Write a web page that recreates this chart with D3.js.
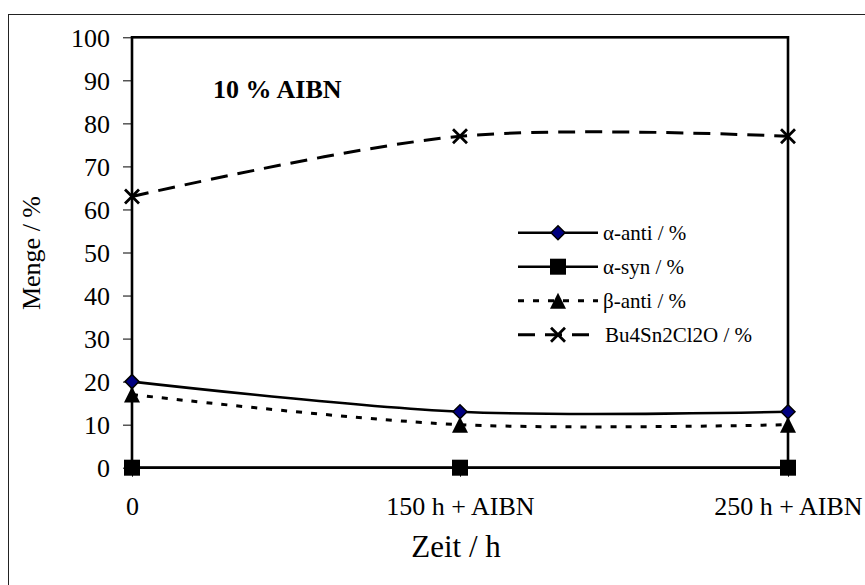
<!DOCTYPE html>
<html>
<head>
<meta charset="utf-8">
<script src="https://cdn.jsdelivr.net/npm/d3@7"></script>
<style>
  body { margin: 0; background: #fff; }
  svg { display: block; }
  text { font-family: "Liberation Serif", "Times New Roman", serif; fill: #000; }
</style>
</head>
<body>
<svg id="chart"></svg>
<script>
// categories on the x axis
var categories = ["0", "150 h + AIBN", "250 h + AIBN"];

// series values (Menge / %)
var alphaAnti = [20, 13, 13];
var alphaSyn = [0, 0, 0];
var betaAnti = [17, 10, 10];
var bu4 = [63, 77, 77];

var yTicks = [0, 10, 20, 30, 40, 50, 60, 70, 80, 90, 100];

var seriesNames = ["α-anti / %", "α-syn / %", "β-anti / %", "Bu4Sn2Cl2O / %"];

var width = 865, height = 585;

var svg = d3.select("#chart")
  .attr("width", width)
  .attr("height", height);

// outer chart border (runs off the right / bottom edge)
svg.append("rect")
  .attr("x", 8.5).attr("y", 14.5)
  .attr("width", 900).attr("height", 600)
  .attr("fill", "none")
  .attr("stroke", "#222")
  .attr("stroke-width", 1);

var plot = { left: 132, right: 788, top: 37.3, bottom: 467.7 };

var x = d3.scalePoint()
  .domain(categories)
  .range([plot.left, plot.right])
  .padding(0);

var y = d3.scaleLinear()
  .domain([0, 100])
  .range([plot.bottom, plot.top]);

// y axis
var yAxis = svg.append("g")
  .attr("transform", "translate(" + plot.left + ",0)")
  .call(d3.axisLeft(y).tickValues(yTicks).tickSize(9).tickPadding(13));
yAxis.select(".domain").remove();
yAxis.selectAll(".tick line").attr("stroke", "#000").attr("stroke-width", 1);
yAxis.selectAll(".tick text")
  .attr("dy", "0.34em")
  .style("font-size", "26px")
  .style("font-family", "Liberation Serif");

// x axis
var xAxis = svg.append("g")
  .attr("transform", "translate(0," + plot.bottom + ")")
  .call(d3.axisBottom(x).tickSize(9).tickPadding(0));
xAxis.select(".domain").remove();
xAxis.selectAll(".tick line").attr("stroke", "#000").attr("stroke-width", 1);
xAxis.selectAll(".tick text")
  .attr("y", 47.3)
  .attr("dy", 0)
  .style("font-size", "26px")
  .style("font-family", "Liberation Serif");

// plot area frame
svg.append("rect")
  .attr("x", plot.left).attr("y", plot.top)
  .attr("width", plot.right - plot.left)
  .attr("height", plot.bottom - plot.top)
  .attr("fill", "none")
  .attr("stroke", "#000")
  .attr("stroke-width", 2.6);

// axis titles
svg.append("text")
  .attr("x", 456).attr("y", 557)
  .attr("text-anchor", "middle")
  .style("font-size", "31px")
  .text("Zeit / h");

svg.append("text")
  .attr("transform", "translate(40,253) rotate(-90)")
  .attr("text-anchor", "middle")
  .style("font-size", "26px")
  .text("Menge / %");

svg.append("text")
  .attr("x", 213).attr("y", 98)
  .style("font-size", "26px")
  .style("font-weight", "bold")
  .text("10 % AIBN");

var line = d3.line()
  .x(function (d, i) { return x(categories[i]); })
  .y(function (d) { return y(d); })
  .curve(d3.curveCardinal.tension(0));

var series = [
  { name: seriesNames[0], values: alphaAnti, dash: null, marker: "diamond" },
  { name: seriesNames[1], values: alphaSyn, dash: null, marker: "square" },
  { name: seriesNames[2], values: betaAnti, dash: "6,9", marker: "triangle" },
  { name: seriesNames[3], values: bu4, dash: "17,10", marker: "cross" }
];

// draw a marker centred on (0,0)
function drawMarker(g, type) {
  if (type == "diamond") {
    g.append("path")
      .attr("d", "M0,-7L7,0L0,7L-7,0Z")
      .attr("fill", "#000080")
      .attr("stroke", "#000")
      .attr("stroke-width", 1.5);
  } else if (type == "square") {
    g.append("rect")
      .attr("x", -8).attr("y", -8)
      .attr("width", 16).attr("height", 16)
      .attr("fill", "#000");
  } else if (type == "triangle") {
    g.append("path")
      .attr("d", "M0,-8L8,8L-8,8Z")
      .attr("fill", "#000");
  } else {
    g.append("path")
      .attr("d", "M-7,-7L7,7M7,-7L-7,7")
      .attr("stroke", "#000")
      .attr("stroke-width", 2.8);
  }
}

series.forEach(function (s) {
  svg.append("path")
    .datum(s.values)
    .attr("d", line)
    .attr("fill", "none")
    .attr("stroke", "#000")
    .attr("stroke-width", s.dash ? 3 : 2.6)
    .attr("stroke-dasharray", s.dash);
});

series.forEach(function (s) {
  s.values.forEach(function (v, i) {
    var g = svg.append("g")
      .attr("transform", "translate(" + x(categories[i]) + "," + y(v) + ")");
    drawMarker(g, s.marker);
  });
});

// legend
var legend = svg.append("g").attr("transform", "translate(518,232.7)");
series.forEach(function (s, i) {
  var row = legend.append("g").attr("transform", "translate(0," + (i * 34) + ")");
  row.append("line")
    .attr("x1", 0).attr("x2", 80)
    .attr("stroke", "#000")
    .attr("stroke-width", s.dash ? 3 : 2.6)
    .attr("stroke-dasharray", s.dash);
  var m = row.append("g").attr("transform", "translate(40,0)");
  drawMarker(m, s.marker);
  row.append("text")
    .attr("x", s.marker == "cross" ? 87 : 85)
    .attr("y", 7)
    .style("font-size", "21px")
    .text(s.name);
});
</script>
</body>
</html>
